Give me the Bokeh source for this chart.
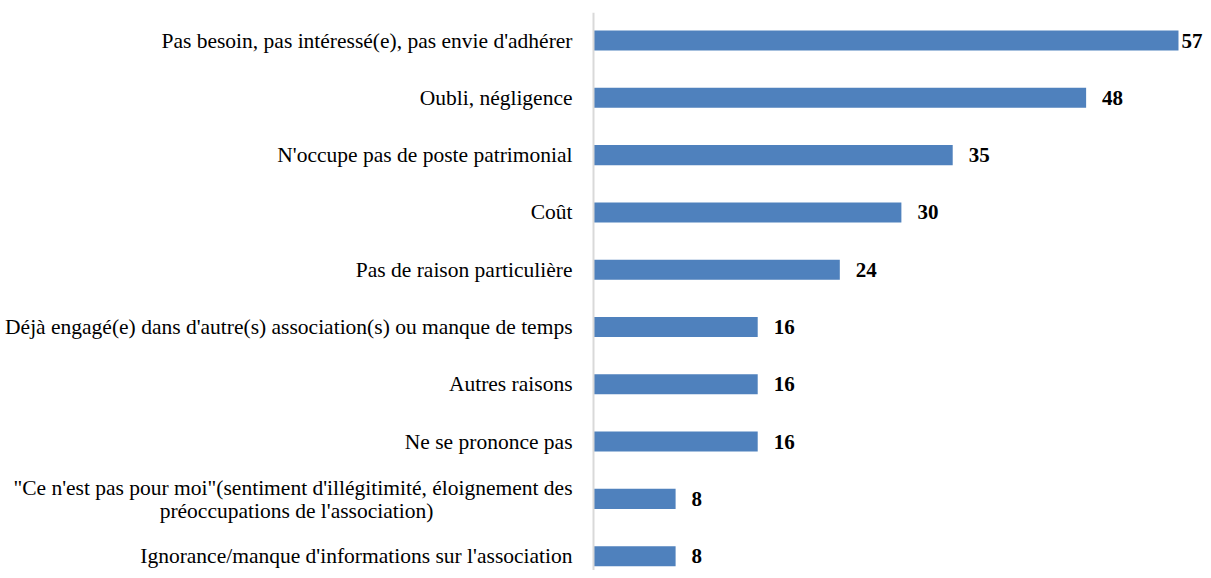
from bokeh.plotting import figure
from bokeh.models import Range1d, ColumnDataSource, Span
from bokeh.core.properties import value
from bokeh.embed import file_html
from bokeh.resources import INLINE

categories = [
    "Pas besoin, pas intéressé(e), pas envie d'adhérer",
    "Oubli, négligence",
    "N'occupe pas de poste patrimonial",
    "Coût",
    "Pas de raison particulière",
    "Déjà engagé(e) dans d'autre(s) association(s) ou manque de temps",
    "Autres raisons",
    "Ne se prononce pas",
    "\"Ce n'est pas pour moi\"(sentiment d'illégitimité, éloignement des\npréoccupations de l'association)",
    "Ignorance/manque d'informations sur l'association",
]
values = [57, 48, 35, 30, 24, 16, 16, 16, 8, 8]

positions = list(range(len(categories)))
vmax = max(values)
offsets = [3 if v == vmax else 16 for v in values]

src = ColumnDataSource(dict(y=positions, v=values, lbl=[str(v) for v in values], off=offsets))

PX_PER_UNIT = 10.263
AXIS_PX = 593
W, H = 1203, 570

p = figure(width=W, height=H, output_backend="svg", toolbar_location=None,
           x_range=Range1d(-AXIS_PX / PX_PER_UNIT, (W - AXIS_PX) / PX_PER_UNIT),
           y_range=Range1d(9.25, -0.489),
           x_axis_location=None, y_axis_location=None,
           min_border_left=0, min_border_right=0, min_border_top=12, min_border_bottom=0)
p.outline_line_color = None
p.grid.visible = False
p.background_fill_color = "white"

p.add_layout(Span(location=0, dimension="height", line_color="#d9d9d9", line_width=2))

p.hbar(y="y", right="v", left=0, height=0.35, source=src, fill_color="#4F81BD", line_color=None)
p.text(x="v", y="y", text="lbl", x_offset="off", source=src, text_align="left", text_baseline="middle",
       text_font=value("Liberation Serif"), text_font_style="bold", text_font_size="21px", text_color="black")

# category labels
single_y, single_t, multi = [], [], []
for pos, c in zip(positions, categories):
    if "\n" in c:
        multi.append((pos, c.split("\n")))
    else:
        single_y.append(pos)
        single_t.append(c)

FONT_SIZE = "21.5px"
p.text(x=[0] * len(single_y), y=single_y, text=single_t, x_offset=-21, text_align="right",
       text_baseline="middle", text_font=value("Liberation Serif"), text_font_size=FONT_SIZE,
       text_color="black")
for pos, lines in multi:
    p.text(x=[0], y=[pos], text=[lines[0]], x_offset=-21, y_offset=-11, text_align="right",
           text_baseline="middle", text_font=value("Liberation Serif"), text_font_size=FONT_SIZE,
           text_color="black")
    p.text(x=[0], y=[pos], text=[lines[1]], x_offset=-297, y_offset=12, text_align="center",
           text_baseline="middle", text_font=value("Liberation Serif"), text_font_size=FONT_SIZE,
           text_color="black")

open("out.html", "w").write(file_html(p, INLINE))
